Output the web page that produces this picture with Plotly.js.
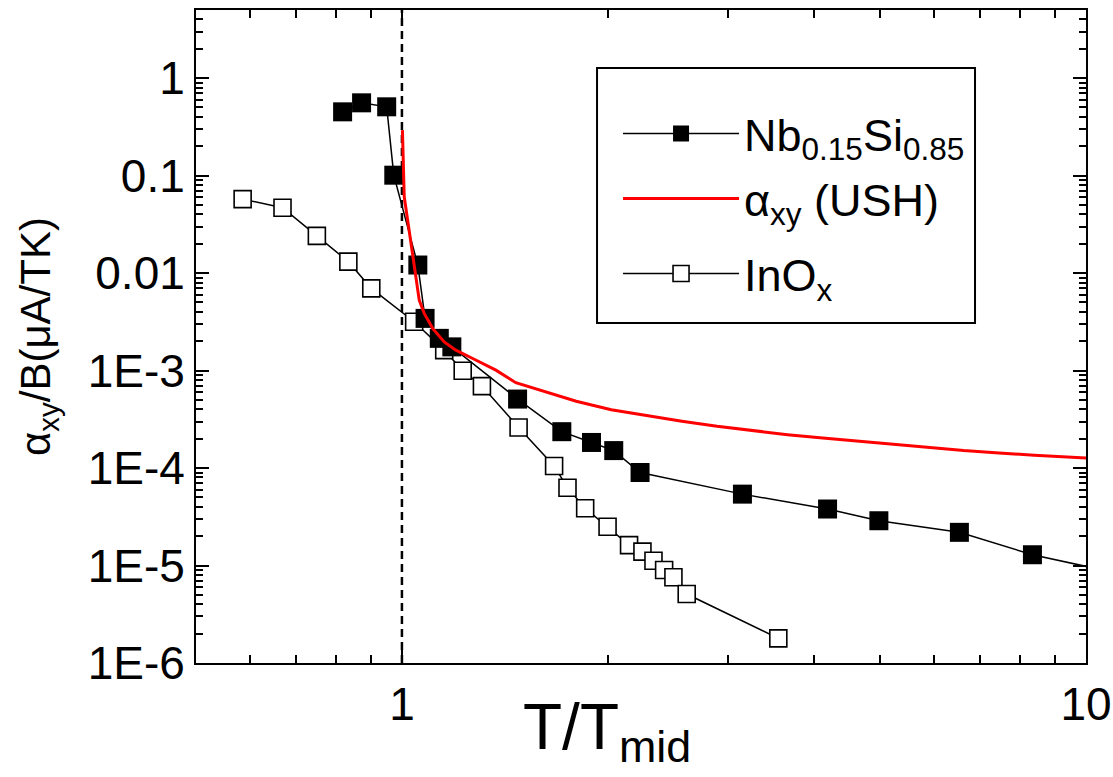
<!DOCTYPE html>
<html>
<head>
<meta charset="utf-8">
<script src="https://cdn.plot.ly/plotly-3.0.1.min.js"></script>
<style>html,body{margin:0;padding:0;background:#fff;}#chart{width:1113px;height:777px;}</style>
</head>
<body>
<div id="chart"></div>
<script>
// ---- data ----
const nbT = [0.819, 0.873, 0.950, 0.973, 1.055, 1.081, 1.134, 1.183, 1.476, 1.713, 1.893, 2.04, 2.229, 3.146, 4.19, 4.98, 6.53, 8.35, 10.5];
const nbA = [0.451, 0.558, 0.508, 0.101, 0.0121, 3.43e-3, 2.14e-3, 1.75e-3, 5.1e-4, 2.36e-4, 1.83e-4, 1.51e-4, 9.0e-5, 5.4e-5, 3.8e-5, 2.88e-5, 2.19e-5, 1.29e-5, 9.1e-6];

const ushT = [1.0017, 1.0044, 1.0078, 1.0194, 1.0366, 1.0507, 1.060, 1.0779, 1.109, 1.153, 1.199, 1.269, 1.372, 1.467, 1.596, 1.798, 2.023, 2.279, 2.566, 2.888, 3.253, 3.662, 4.123, 4.644, 5.227, 5.886, 6.626, 7.461, 8.402, 10.0];
const ushA = [0.293, 0.090, 0.0606, 0.035, 0.0159, 8.48e-3, 5.28e-3, 3.86e-3, 2.71e-3, 1.97e-3, 1.62e-3, 1.33e-3, 1.01e-3, 7.5e-4, 6.28e-4, 4.84e-4, 3.97e-4, 3.45e-4, 3.02e-4, 2.68e-4, 2.42e-4, 2.20e-4, 2.03e-4, 1.88e-4, 1.74e-4, 1.62e-4, 1.51e-4, 1.43e-4, 1.35e-4, 1.27e-4];

const inT = [0.585, 0.669, 0.751, 0.835, 0.902, 1.042, 1.153, 1.227, 1.309, 1.481, 1.669, 1.746, 1.853, 1.998, 2.148, 2.247, 2.332, 2.417, 2.494, 2.608, 3.55];
const inA = [0.0574, 0.0468, 0.0241, 0.0131, 6.97e-3, 3.17e-3, 1.62e-3, 9.95e-4, 6.93e-4, 2.61e-4, 1.05e-4, 6.28e-5, 3.87e-5, 2.50e-5, 1.62e-5, 1.39e-5, 1.12e-5, 9.0e-6, 7.57e-6, 5.1e-6, 1.79e-6];

const seriesNames = ['Nb<sub>0.15</sub>Si<sub>0.85</sub>', '\u03b1<sub>xy</sub> (USH)', 'InO<sub>x</sub>'];

const xTickVals = [1, 10];
const xTickText = ['1', '10'];
const yTickVals = [1, 0.1, 0.01, 1e-3, 1e-4, 1e-5, 1e-6];
const yTickText = ['1', '0.1', '0.01', '1E-3', '1E-4', '1E-5', '1E-6'];
const xMinorVals = [0.6, 0.7, 0.8, 0.9, 2, 3, 4, 5, 6, 7, 8, 9];
const minorDigits = [2, 3, 4, 5, 6, 7, 8, 9];
const yDecades = [-6, -5, -4, -3, -2, -1, 0];
const yMinorVals = [];
yDecades.forEach(d => minorDigits.forEach(m => yMinorVals.push(m * Math.pow(10, d))));

const xTitle = 'T/T<sub>mid</sub>';
const yTitle = '\u03b1<sub>xy</sub>/B(\u03bcA/TK)';

// ---- traces ----
const FONT = 'Arial, "Liberation Sans", Helvetica, sans-serif';
const traces = [
  {
    x: inT, y: inA, name: seriesNames[2], legend: 'legend3',
    type: 'scatter', mode: 'lines+markers',
    line: {color: 'black', width: 1.5},
    marker: {symbol: 'square', size: 17, color: 'white', line: {color: 'black', width: 1.6}}
  },
  {
    x: nbT, y: nbA, name: seriesNames[0], legend: 'legend',
    type: 'scatter', mode: 'lines+markers',
    line: {color: 'black', width: 1.5},
    marker: {symbol: 'square', size: 19, color: 'black', line: {width: 0}}
  },
  {
    x: ushT, y: ushA, name: seriesNames[1], legend: 'legend2',
    type: 'scatter', mode: 'lines',
    line: {color: '#ff0000', width: 3}
  }
];

const axisCommon = {
  type: 'log', showgrid: false, zeroline: false,
  showline: true, linecolor: 'black', linewidth: 2, mirror: 'ticks',
  ticks: 'inside', ticklen: 13, tickwidth: 2, tickcolor: 'black',
  tickmode: 'array', tickfont: {size: 46, family: FONT, color: 'black'}
};

function legendAt(yPaper) {
  return {
    x: 0.4742, y: yPaper, xanchor: 'left', yanchor: 'middle',
    bgcolor: 'rgba(0,0,0,0)', borderwidth: 0,
    font: {size: 45, family: FONT, color: 'black'},
    itemwidth: 116
  };
}

const layout = {
  width: 1113, height: 777,
  margin: {l: 196, r: 27, t: 10, b: 114, pad: 0},
  paper_bgcolor: 'white', plot_bgcolor: 'white',
  font: {family: FONT, color: 'black'},
  showlegend: true,
  xaxis: Object.assign({}, axisCommon, {
    range: [Math.log10(0.5), 1],
    tickvals: xTickVals, ticktext: xTickText,
    minor: {ticks: 'inside', ticklen: 8, tickwidth: 2, tickcolor: 'black', tickmode: 'array', tickvals: xMinorVals, showgrid: false}
  }),
  yaxis: Object.assign({}, axisCommon, {
    range: [-6, Math.log10(5)],
    tickvals: yTickVals, ticktext: yTickText,
    minor: {ticks: 'inside', ticklen: 7, tickwidth: 2, tickcolor: 'black', tickmode: 'array', tickvals: yMinorVals, showgrid: false},
    title: {text: yTitle, font: {size: 42, family: FONT, color: 'black'}, standoff: 24}
  }),
  legend: legendAt(0.8105),
  legend2: legendAt(0.7110),
  legend3: legendAt(0.5960),
  shapes: [
    {
      type: 'line', xref: 'x', yref: 'paper', x0: 1, x1: 1, y0: 0, y1: 1,
      layer: 'below', line: {color: 'black', width: 2.5, dash: '8px,5px'}
    },
    {
      type: 'rect', xref: 'paper', yref: 'paper', x0: 0.4506, x1: 0.8753, y0: 0.5207, y1: 0.9112,
      layer: 'above', fillcolor: 'white', line: {color: 'black', width: 2}
    }
  ],
  annotations: [{
    text: xTitle, xref: 'paper', yref: 'paper', x: 0.4618, y: -0.04,
    xanchor: 'center', yanchor: 'top', showarrow: false,
    font: {size: 64, family: FONT, color: 'black'}
  }]
};

Plotly.newPlot('chart', traces, layout, {displayModeBar: false, staticPlot: true});
</script>
</body>
</html>
